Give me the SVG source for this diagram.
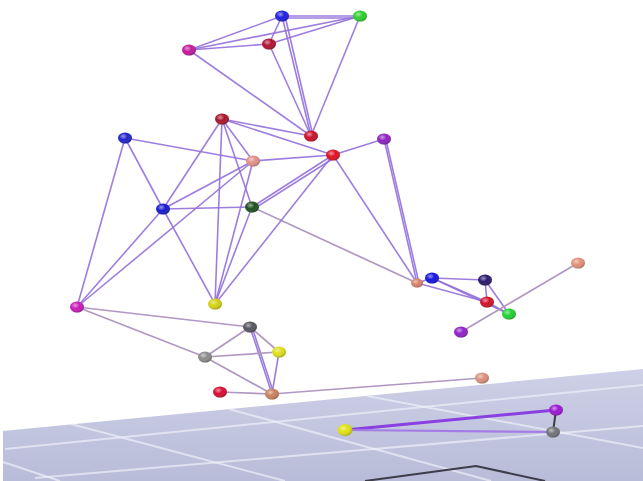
<svg xmlns="http://www.w3.org/2000/svg" width="643" height="481" viewBox="0 0 643 481">
<defs>
<linearGradient id="floorg" x1="0" y1="0" x2="0" y2="1">
<stop offset="0" stop-color="#cdd0e6"/>
<stop offset="1" stop-color="#b9bcd8"/>
</linearGradient>
<radialGradient id="shade" cx="0.38" cy="0.35" r="0.7">
<stop offset="0" stop-color="#ffffff" stop-opacity="0.55"/>
<stop offset="0.45" stop-color="#ffffff" stop-opacity="0"/>
<stop offset="1" stop-color="#000000" stop-opacity="0.3"/>
</radialGradient>
</defs>
<style>
.e{stroke:#9270da;stroke-width:1.6;stroke-opacity:0.9;fill:none}
.g{stroke:#b098c2;stroke-width:1.7;fill:none}
.grid{stroke:#eef0fa;stroke-width:2;stroke-opacity:0.7;fill:none}
.hl{fill:url(#shade)}
</style>
<rect x="0" y="0" width="643" height="481" fill="#ffffff"/>
<g id="floor">
<polygon points="3,431 643,369 643,481 3,481" fill="url(#floorg)"/>
<line class="grid" x1="5" y1="449" x2="643" y2="385"/>
<line class="grid" x1="35" y1="478" x2="643" y2="426"/>
<line class="grid" x1="3" y1="462" x2="60" y2="481"/>
<line class="grid" x1="71" y1="424" x2="285" y2="481"/>
<line class="grid" x1="229" y1="409" x2="491" y2="481"/>
<line class="grid" x1="367" y1="396" x2="643" y2="448"/>
<polyline points="365,481 476,466 545,481" fill="none" stroke="#3c3c4a" stroke-width="2"/>
</g>
<g id="connectors">
<line class="e" x1="282" y1="16" x2="360" y2="16"/>
<line class="e" x1="282" y1="18" x2="360" y2="18"/>
<line class="e" x1="189" y1="50" x2="282" y2="16"/>
<line class="e" x1="189" y1="50" x2="360" y2="16"/>
<line class="e" x1="189" y1="50" x2="269" y2="44"/>
<line class="e" x1="269" y1="44" x2="360" y2="16"/>
<line class="e" x1="282" y1="16" x2="269" y2="44"/>
<line class="e" x1="282" y1="16" x2="311" y2="136"/>
<line class="e" x1="285" y1="16" x2="313" y2="136"/>
<line class="e" x1="269" y1="44" x2="311" y2="136"/>
<line class="e" x1="360" y1="16" x2="311" y2="136"/>
<line class="e" x1="189" y1="50" x2="311" y2="136"/>
<line class="e" x1="222" y1="119" x2="311" y2="136"/>
<line class="e" x1="222" y1="119" x2="333" y2="155"/>
<line class="e" x1="222" y1="119" x2="163" y2="209"/>
<line class="e" x1="222" y1="119" x2="253" y2="161"/>
<line class="e" x1="222" y1="119" x2="252" y2="207"/>
<line class="e" x1="222" y1="119" x2="215" y2="304"/>
<line class="e" x1="125" y1="138" x2="253" y2="161"/>
<line class="e" x1="125" y1="138" x2="163" y2="209"/>
<line class="e" x1="125" y1="138" x2="77" y2="307"/>
<line class="e" x1="253" y1="161" x2="333" y2="155"/>
<line class="e" x1="253" y1="161" x2="163" y2="209"/>
<line class="e" x1="253" y1="161" x2="77" y2="307"/>
<line class="e" x1="253" y1="161" x2="215" y2="304"/>
<line class="e" x1="163" y1="209" x2="252" y2="207"/>
<line class="e" x1="163" y1="209" x2="77" y2="307"/>
<line class="e" x1="163" y1="209" x2="215" y2="304"/>
<line class="e" x1="252" y1="207" x2="333" y2="155"/>
<line class="e" x1="252" y1="210" x2="334" y2="158"/>
<line class="e" x1="252" y1="207" x2="215" y2="304"/>
<line class="g" x1="252" y1="207" x2="417" y2="283"/>
<line class="e" x1="215" y1="304" x2="333" y2="155"/>
<line class="e" x1="333" y1="155" x2="417" y2="283"/>
<line class="e" x1="333" y1="155" x2="384" y2="139"/>
<line class="e" x1="384" y1="139" x2="417" y2="283"/>
<line class="e" x1="386" y1="140" x2="419" y2="283"/>
<line class="e" x1="417" y1="283" x2="432" y2="278"/>
<line class="e" x1="432" y1="278" x2="485" y2="280"/>
<line class="e" x1="432" y1="278" x2="487" y2="302"/>
<line class="e" x1="417" y1="283" x2="487" y2="302"/>
<line class="e" x1="485" y1="280" x2="487" y2="302"/>
<line class="e" x1="485" y1="280" x2="509" y2="314"/>
<line class="e" x1="487" y1="302" x2="509" y2="314"/>
<line class="e" x1="432" y1="278" x2="509" y2="314"/>
<line class="g" x1="461" y1="332" x2="578" y2="263"/>
<line class="g" x1="77" y1="307" x2="250" y2="327"/>
<line class="g" x1="77" y1="307" x2="205" y2="357"/>
<line class="g" x1="250" y1="327" x2="205" y2="357"/>
<line class="g" x1="250" y1="327" x2="279" y2="352"/>
<line class="e" x1="250" y1="327" x2="272" y2="394"/>
<line class="e" x1="252" y1="327" x2="274" y2="394"/>
<line class="g" x1="205" y1="357" x2="279" y2="352"/>
<line class="g" x1="205" y1="357" x2="272" y2="394"/>
<line class="e" x1="279" y1="352" x2="272" y2="394"/>
<line class="g" x1="220" y1="392" x2="272" y2="394"/>
<line class="g" x1="272" y1="394" x2="482" y2="378"/>
<line x1="345" y1="430" x2="556" y2="410" stroke="#8a40e0" stroke-width="3"/>
<line x1="345" y1="430" x2="553" y2="432" stroke="#a47ce6" stroke-width="2.2"/>
<line x1="556" y1="410" x2="553" y2="432" stroke="#3c3c4a" stroke-width="2"/>
</g>
<g id="n1"><ellipse cx="282" cy="16" rx="7" ry="5.5" fill="#1c1ee0"/><ellipse class="hl" cx="282" cy="16" rx="7" ry="5.5"/></g>
<g id="n2"><ellipse cx="360" cy="16" rx="7" ry="5.5" fill="#2ad02a"/><ellipse class="hl" cx="360" cy="16" rx="7" ry="5.5"/></g>
<g id="n3"><ellipse cx="189" cy="50" rx="7" ry="5.5" fill="#c2189c"/><ellipse class="hl" cx="189" cy="50" rx="7" ry="5.5"/></g>
<g id="n4"><ellipse cx="269" cy="44" rx="7" ry="5.5" fill="#b01030"/><ellipse class="hl" cx="269" cy="44" rx="7" ry="5.5"/></g>
<g id="n5"><ellipse cx="311" cy="136" rx="7" ry="5.5" fill="#c80f28"/><ellipse class="hl" cx="311" cy="136" rx="7" ry="5.5"/></g>
<g id="n6"><ellipse cx="222" cy="119" rx="7" ry="5.5" fill="#a8142a"/><ellipse class="hl" cx="222" cy="119" rx="7" ry="5.5"/></g>
<g id="n7"><ellipse cx="125" cy="138" rx="7" ry="5.5" fill="#2020c8"/><ellipse class="hl" cx="125" cy="138" rx="7" ry="5.5"/></g>
<g id="n8"><ellipse cx="253" cy="161" rx="7" ry="5.5" fill="#e09088"/><ellipse class="hl" cx="253" cy="161" rx="7" ry="5.5"/></g>
<g id="n9"><ellipse cx="333" cy="155" rx="7" ry="5.5" fill="#e01020"/><ellipse class="hl" cx="333" cy="155" rx="7" ry="5.5"/></g>
<g id="n10"><ellipse cx="384" cy="139" rx="7" ry="5.5" fill="#8c20c0"/><ellipse class="hl" cx="384" cy="139" rx="7" ry="5.5"/></g>
<g id="n11"><ellipse cx="163" cy="209" rx="7" ry="5.5" fill="#1818d0"/><ellipse class="hl" cx="163" cy="209" rx="7" ry="5.5"/></g>
<g id="n12"><ellipse cx="252" cy="207" rx="7" ry="5.5" fill="#1a501e"/><ellipse class="hl" cx="252" cy="207" rx="7" ry="5.5"/></g>
<g id="n13"><ellipse cx="77" cy="307" rx="7" ry="5.5" fill="#c818b8"/><ellipse class="hl" cx="77" cy="307" rx="7" ry="5.5"/></g>
<g id="n14"><ellipse cx="215" cy="304" rx="7" ry="5.5" fill="#d4d010"/><ellipse class="hl" cx="215" cy="304" rx="7" ry="5.5"/></g>
<g id="n15"><ellipse cx="417" cy="283" rx="6" ry="4.5" fill="#d88068"/><ellipse class="hl" cx="417" cy="283" rx="6" ry="4.5"/></g>
<g id="n16"><ellipse cx="432" cy="278" rx="7" ry="5.5" fill="#1414e0"/><ellipse class="hl" cx="432" cy="278" rx="7" ry="5.5"/></g>
<g id="n17"><ellipse cx="485" cy="280" rx="7" ry="5.5" fill="#28186c"/><ellipse class="hl" cx="485" cy="280" rx="7" ry="5.5"/></g>
<g id="n18"><ellipse cx="487" cy="302" rx="7" ry="5.5" fill="#d0102a"/><ellipse class="hl" cx="487" cy="302" rx="7" ry="5.5"/></g>
<g id="n19"><ellipse cx="509" cy="314" rx="7" ry="5.5" fill="#20d030"/><ellipse class="hl" cx="509" cy="314" rx="7" ry="5.5"/></g>
<g id="n20"><ellipse cx="461" cy="332" rx="7" ry="5.5" fill="#9020c8"/><ellipse class="hl" cx="461" cy="332" rx="7" ry="5.5"/></g>
<g id="n21"><ellipse cx="578" cy="263" rx="7" ry="5.5" fill="#e09078"/><ellipse class="hl" cx="578" cy="263" rx="7" ry="5.5"/></g>
<g id="n22"><ellipse cx="250" cy="327" rx="7" ry="5.5" fill="#55555f"/><ellipse class="hl" cx="250" cy="327" rx="7" ry="5.5"/></g>
<g id="n23"><ellipse cx="205" cy="357" rx="7" ry="5.5" fill="#8a8a8a"/><ellipse class="hl" cx="205" cy="357" rx="7" ry="5.5"/></g>
<g id="n24"><ellipse cx="279" cy="352" rx="7" ry="5.5" fill="#dede18"/><ellipse class="hl" cx="279" cy="352" rx="7" ry="5.5"/></g>
<g id="n25"><ellipse cx="220" cy="392" rx="7" ry="5.5" fill="#d80a30"/><ellipse class="hl" cx="220" cy="392" rx="7" ry="5.5"/></g>
<g id="n26"><ellipse cx="272" cy="394" rx="7" ry="5.5" fill="#c8805a"/><ellipse class="hl" cx="272" cy="394" rx="7" ry="5.5"/></g>
<g id="n27"><ellipse cx="482" cy="378" rx="7" ry="5.5" fill="#d8907a"/><ellipse class="hl" cx="482" cy="378" rx="7" ry="5.5"/></g>
<g id="n28"><ellipse cx="345" cy="430" rx="7.5" ry="6" fill="#e0e010"/><ellipse class="hl" cx="345" cy="430" rx="7.5" ry="6"/></g>
<g id="n29"><ellipse cx="556" cy="410" rx="7" ry="5.5" fill="#9a18d0"/><ellipse class="hl" cx="556" cy="410" rx="7" ry="5.5"/></g>
<g id="n30"><ellipse cx="553" cy="432" rx="7" ry="5.5" fill="#707478"/><ellipse class="hl" cx="553" cy="432" rx="7" ry="5.5"/></g>
</svg>
